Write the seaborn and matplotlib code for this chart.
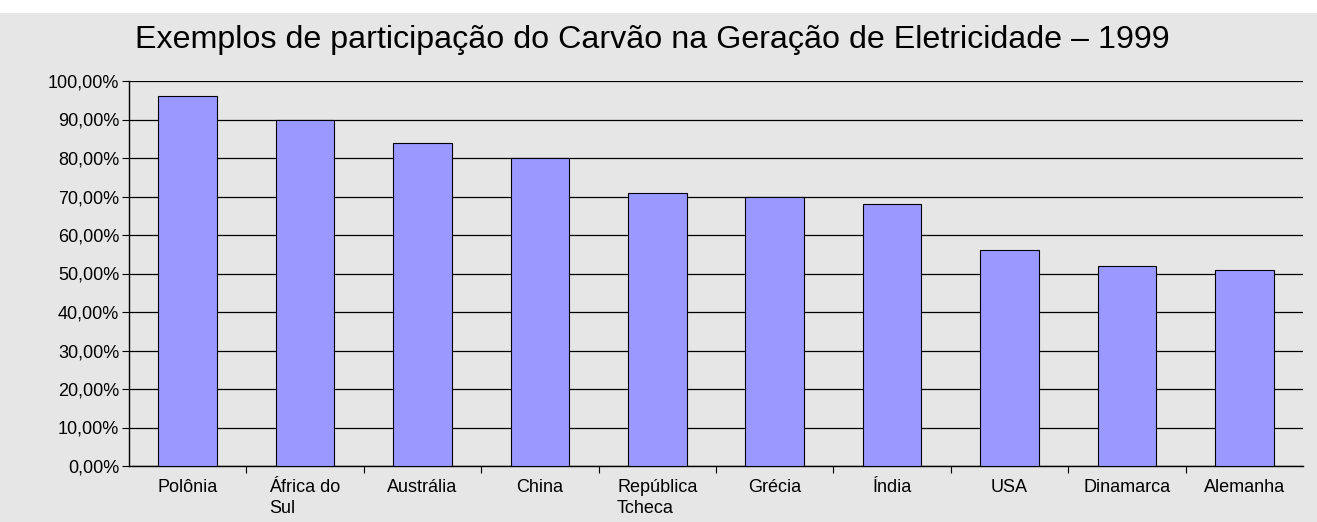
import matplotlib
matplotlib.use("Agg")
import matplotlib.pyplot as plt
import matplotlib.ticker as mticker
import numpy as np
import pandas as pd
import seaborn as sns

# data
countries = ["Polônia", "África do\nSul", "Austrália", "China", "República\nTcheca",
             "Grécia", "Índia", "USA", "Dinamarca", "Alemanha"]
share = [96, 90, 84, 80, 71, 70, 68, 56, 52, 51]
yticks = list(range(0, 101, 10))

BG = "#e6e6e6"
BAR = "#9999ff"

sns.set_theme(style="white")
plt.rcParams["font.family"] = ["Liberation Sans", "DejaVu Sans"]
plt.rcParams["text.color"] = "black"
plt.rcParams["xtick.color"] = "black"
plt.rcParams["ytick.color"] = "black"

df = pd.DataFrame({"pais": countries, "share": share})

fig = plt.figure(figsize=(13.17, 5.22), dpi=100, facecolor="white")
fig.patches.append(plt.Rectangle((0, 0), 1, 1 - 13 / 522, transform=fig.transFigure,
                                 facecolor=BG, edgecolor="none", zorder=-1))
ax = fig.add_axes([129 / 1317, 56 / 522, (1303 - 129) / 1317, (466 - 81) / 522])
ax.set_facecolor(BG)

sns.barplot(data=df, x="pais", y="share", color=BAR, width=0.5, saturation=1,
            edgecolor="black", linewidth=0.8, ax=ax, zorder=3)

ax.set_xlim(-0.5, len(countries) - 0.5)
ax.set_ylim(0, 100)
ax.set_yticks(yticks)
ax.yaxis.set_major_formatter(mticker.FuncFormatter(lambda v, _: f"{v:.2f}%".replace(".", ",")))
ax.grid(axis="y", color="black", lw=0.9, zorder=0)
ax.set_axisbelow(True)

# x ticks at category boundaries, labels at centers
ax.set_xticks(np.arange(len(countries)))
ax.set_xticklabels(countries, fontsize=13, linespacing=1.35)
for lab in ax.get_xticklabels():
    lab.set_horizontalalignment("center")
    lab.set_multialignment("left")
ax.tick_params(axis="x", which="major", length=0, pad=9)
ax.set_xticks(np.arange(0.5, len(countries) - 0.5), minor=True)
ax.tick_params(axis="x", which="minor", length=5, width=0.8, color="black", direction="out")
ax.tick_params(axis="y", length=5, width=0.8, color="black", direction="out", labelsize=13, pad=2)
ax.xaxis.set_ticks_position("bottom")
ax.yaxis.set_ticks_position("left")

for s in ["top", "right"]:
    ax.spines[s].set_visible(False)
for s in ["left", "bottom"]:
    ax.spines[s].set_color("black")
    ax.spines[s].set_linewidth(1.0)

ax.set_xlabel("")
ax.set_ylabel("")

fig.text(652 / 1317, 1 - 40 / 522, "Exemplos de participação do Carvão na Geração de Eletricidade – 1999",
         ha="center", va="center", fontsize=23.2)

fig.savefig("out.png", dpi=100, facecolor=fig.get_facecolor())
